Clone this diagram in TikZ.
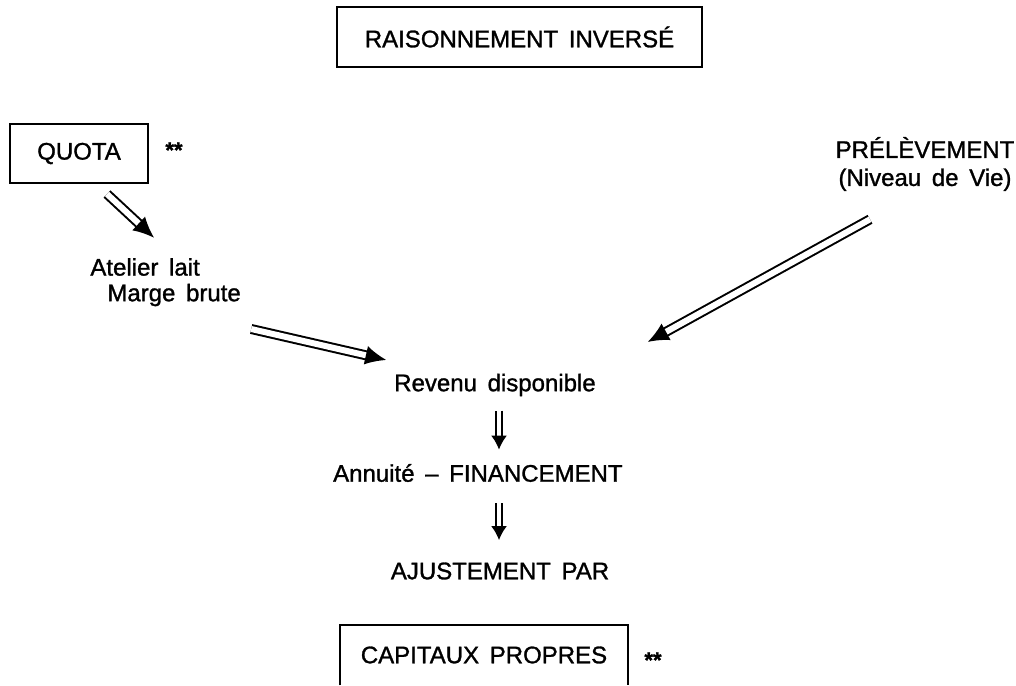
\documentclass[tikz,border=0pt]{standalone}
\usepackage{fontspec}
\setmainfont{Liberation Sans}[WordSpace=1.6,FakeBold=1.2]
\usetikzlibrary{arrows.meta,positioning,calc}

\begin{document}
\begin{tikzpicture}[x=0.5pt,y=-0.5pt,
    txt/.style={font=\fontsize{12}{14}\selectfont,inner sep=0pt},
    box/.style={txt,draw,line width=1pt},
    star/.style={font=\bfseries\fontsize{11}{13}\selectfont,inner sep=0pt},
    dbl/.style={double,double distance=3pt,line width=1pt,
      -{Latex[length=10.5pt,width=9.5pt]}},
    dbldown/.style={double,double distance=2.4pt,line width=1pt,
      -{Latex[length=7pt,width=8pt]}}]
  \useasboundingbox (0,0) rectangle (1016,685);

  % the boxes
  \node[box,minimum width=182.5pt,minimum height=30pt] (titre) at (519.5,37) {RAISONNEMENT INVERSÉ};
  \node[box,minimum width=69pt,minimum height=29.5pt] (quota) at (79,153.5) {QUOTA};
  \node[star] (qstar) at (174,150) {**};
  \node[txt,minimum width=144pt,minimum height=30pt] (capitaux) at (484,655) {CAPITAUX PROPRES};
  \draw[line width=1pt] (capitaux.south west) |- (capitaux.north east) -- (capitaux.south east);
  \node[star] (cstar) at (653,660) {**};

  % the texts
  \node[txt,anchor=west] (atelier) at (90,267) {Atelier lait};
  \node[txt,anchor=west] (marge) at (107,295) {Marge brute};
  \node[txt,align=center] (prelev) at (925,164) {PRÉLÈVEMENT\\(Niveau de Vie)};
  \node[txt] (revenu) at (495,385) {Revenu disponible};
  \node[txt,anchor=east] (annuite) at (623,473) {Annuité -- FINANCEMENT};
  \node[txt] (ajust) at (500,571) {AJUSTEMENT PAR};

  % the arrows
  \draw[dbl] ($(quota.south)+(28,10)$) -- ($(atelier.north)+(9,-20)$);
  \draw[dbl] ($(marge.east)+(10,34)$) -- ($(revenu.west)+(-7.5,-25)$);
  \draw[dbl] ($(prelev.south)+(-55,28)$) -- ($(revenu.east)+(51.5,-43)$);
  \draw[dbldown] ($(revenu.south)+(4,14)$) -- ($(revenu.south |- annuite.north)+(4,-14)$);
  \draw[dbldown] ($(revenu.south |- annuite.south)+(4,21)$) -- ($(revenu.south |- ajust.north)+(4,-22)$);

\end{tikzpicture}
\end{document}
